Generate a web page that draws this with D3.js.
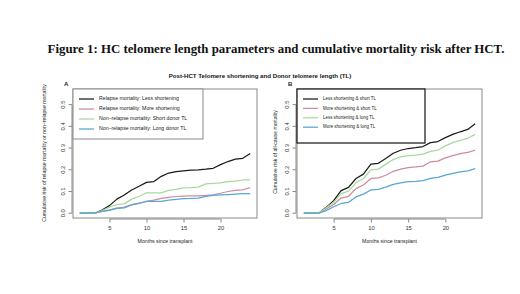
<!DOCTYPE html>
<html><head><meta charset="utf-8">
<script src="https://cdn.jsdelivr.net/npm/d3@7"></script>
<style>body{margin:0;background:#fff}svg{display:block}</style>
</head><body>
<svg id="c" width="520" height="294"></svg>
<script>
const months = d3.range(1, 25);
const xTicks = [5, 10, 15, 20];
const yTicks = [0, 0.1, 0.2, 0.3, 0.4, 0.5];
const yTickLabels = ["0.0", "0.1", "0.2", "0.3", "0.4", "0.5"];

// Panel A
const aNames = ["Relapse mortality: Less shortening", "Relapse mortality: More shortening",
  "Non\u2212relapse mortality: Short donor TL", "Non\u2212relapse mortality: Long donor TL"];
const aRelLess = [0,0,0,0.015,0.035,0.065,0.084,0.107,0.124,0.142,0.146,0.170,0.185,0.192,0.195,0.198,0.200,0.203,0.207,0.224,0.238,0.249,0.253,0.275];
const aRelMore = [0,0,0,0.008,0.015,0.024,0.028,0.040,0.046,0.055,0.060,0.068,0.073,0.077,0.079,0.080,0.080,0.082,0.085,0.092,0.100,0.105,0.108,0.118];
const aNrmShort = [0,0,0,0.012,0.028,0.040,0.043,0.065,0.078,0.094,0.094,0.094,0.105,0.110,0.117,0.118,0.120,0.135,0.137,0.140,0.145,0.148,0.153,0.153];
const aNrmLong = [0,0,0,0.008,0.013,0.022,0.025,0.038,0.045,0.054,0.054,0.055,0.060,0.064,0.067,0.068,0.070,0.078,0.082,0.084,0.086,0.088,0.090,0.090];

// Panel B
const bNames = ["Less shortening & short TL", "More shortening & short TL",
  "Less shortening & long TL", "More shortening & long TL"];
const bLessShort = [0,0,0,0.027,0.058,0.104,0.119,0.160,0.180,0.226,0.230,0.252,0.276,0.290,0.298,0.302,0.307,0.325,0.330,0.348,0.363,0.375,0.386,0.412];
const bMoreShort = [0,0,0,0.020,0.040,0.070,0.078,0.113,0.130,0.160,0.163,0.175,0.193,0.203,0.210,0.213,0.217,0.237,0.240,0.255,0.265,0.274,0.280,0.290];
const bLessLong = [0,0,0,0.025,0.050,0.090,0.102,0.140,0.160,0.200,0.203,0.225,0.247,0.260,0.265,0.268,0.272,0.285,0.290,0.310,0.325,0.335,0.345,0.363];
const bMoreLong = [0,0,0,0.012,0.030,0.045,0.050,0.075,0.088,0.107,0.110,0.120,0.133,0.140,0.145,0.147,0.150,0.160,0.165,0.175,0.183,0.190,0.195,0.205];

const colors = ["#1a1a1a", "#cf8b9b", "#a6d99e", "#56a6d6"];

const svg = d3.select("#c");
const sans = "Liberation Sans, Arial, sans-serif";

function fitText(sel, target) {
  const n = sel.node();
  const w = n.getComputedTextLength();
  const fs = parseFloat(sel.attr("font-size"));
  sel.attr("font-size", fs * target / w);
  return fs * target / w;
}

// Figure title
const ft = svg.append("text").attr("x", 276).attr("y", 53).attr("text-anchor", "middle")
  .attr("font-family", "Liberation Serif, Times New Roman, serif").attr("font-weight", "bold")
  .attr("font-size", 13).attr("fill", "#111")
  .text("Figure 1: HC telomere length parameters and cumulative mortality risk after HCT.");
fitText(ft, 457);

const st = svg.append("text").attr("x", 260).attr("y", 78).attr("text-anchor", "middle")
  .attr("font-family", sans).attr("font-weight", "bold").attr("font-size", 6).attr("fill", "#111")
  .text("Post-HCT Telomere shortening and Donor telomere length (TL)");
fitText(st, 183);

function panel(o) {
  const x = d3.scaleLinear().domain([1 - 0.92, 24 + 0.92]).range([o.left, o.right]);
  const y = d3.scaleLinear().domain([-0.022, 0.572]).range([218, 89]);
  const g = svg.append("g");

  // box
  g.append("rect").attr("x", o.left).attr("y", 89).attr("width", o.right - o.left).attr("height", 129)
    .attr("fill", "none").attr("stroke", "#8a8a8a").attr("stroke-width", 1);

  // axes
  const ya = d3.axisLeft(y).tickValues(yTicks).tickFormat((d, i) => yTickLabels[i]).tickSize(3.5).tickPadding(2);
  const yg = g.append("g").attr("transform", `translate(${o.left - 1},0)`).call(ya);
  yg.select(".domain").attr("stroke", "none");
  yg.append("line").attr("x1", 0).attr("x2", 0).attr("y1", y(0)).attr("y2", y(0.5)).attr("stroke", "#8a8a8a");
  yg.selectAll(".tick line").attr("stroke", "#8a8a8a");
  yg.selectAll(".tick text").attr("font-family", sans).attr("font-size", 5.8).attr("fill", "#333")
    .attr("text-anchor", "middle").attr("x", -8.5).attr("dy", 0)
    .attr("transform", function(d) { return `rotate(-90,-8.5,${y(d)})`; })
    .attr("y", d => y(d)).attr("dominant-baseline", "middle");
  yg.selectAll(".tick").attr("transform", null);
  yg.selectAll(".tick line").attr("y1", d => y(d)).attr("y2", d => y(d));

  const xa = d3.axisBottom(x).tickValues(xTicks).tickSize(3.5).tickPadding(3);
  const xg = g.append("g").attr("transform", `translate(0,${219})`).call(xa);
  xg.select(".domain").attr("stroke", "none");
  xg.append("line").attr("x1", x(5)).attr("x2", x(20)).attr("y1", 0).attr("y2", 0).attr("stroke", "#8a8a8a");
  xg.selectAll(".tick line").attr("stroke", "#8a8a8a");
  xg.selectAll(".tick text").attr("font-family", sans).attr("font-size", 5.8).attr("fill", "#333");

  // x title
  const xt = g.append("text").attr("x", (o.left + o.right) / 2).attr("y", 243).attr("text-anchor", "middle")
    .attr("font-family", sans).attr("font-size", 5.5).attr("fill", "#222").text("Months since transplant");
  fitText(xt, 55);

  // y title
  const ytl = g.append("text").attr("transform", `translate(${o.ytx},${o.yty}) rotate(-90)`)
    .attr("text-anchor", "middle").attr("font-family", sans).attr("font-size", 5.5).attr("fill", "#222")
    .text(o.ytitle);
  fitText(ytl, o.ytw);

  // panel letter
  g.append("text").attr("x", o.left - 9).attr("y", 86).attr("font-family", sans).attr("font-weight", "bold")
    .attr("font-size", 6).attr("fill", "#222").text(o.letter);

  // lines
  const line = d3.line().x((d, i) => x(months[i])).y(d => y(d));
  o.series.forEach((s, i) => {
    g.append("path").datum(s).attr("d", line).attr("fill", "none")
      .attr("stroke", colors[i]).attr("stroke-width", 1.25).attr("stroke-linejoin", "round");
  });

  // legend
  const lg = g.append("g");
  lg.append("rect").attr("x", o.left).attr("y", 89).attr("width", o.legW).attr("height", o.legH)
    .attr("fill", "#fff").attr("stroke", o.legStroke).attr("stroke-width", o.legSW);
  let fs = 5;
  o.names.forEach((n, i) => {
    const yy = 99 + i * o.legStep;
    lg.append("line").attr("x1", o.left + 6).attr("x2", o.left + 21).attr("y1", yy).attr("y2", yy)
      .attr("stroke", colors[i]).attr("stroke-width", 1.25);
    const t = lg.append("text").attr("x", o.left + o.textX).attr("y", yy).attr("dominant-baseline", "middle")
      .attr("font-family", sans).attr("font-size", fs).attr("fill", "#222").text(n);
    if (i === 0) fs = fitText(t, o.firstW);
  });
}

panel({left: 73, right: 257, letter: "A", series: [aRelLess, aRelMore, aNrmShort, aNrmLong], names: aNames,
  ytitle: "Cumulative risk of relapse mortality or non\u2212relapse mortality", ytx: 46, yty: 153, ytw: 138,
  legW: 130, legH: 50, legStroke: "#8a8a8a", legSW: 1, legStep: 10, textX: 26, firstW: 80});
panel({left: 297, right: 482, letter: "B", series: [bLessShort, bMoreShort, bLessLong, bMoreLong], names: bNames,
  ytitle: "Cumulative risk of all-cause mortality", ytx: 277, yty: 152, ytw: 84,
  legW: 128, legH: 54, legStroke: "#111", legSW: 1.2, legStep: 9.4, textX: 26, firstW: 53});
</script>
</body></html>
